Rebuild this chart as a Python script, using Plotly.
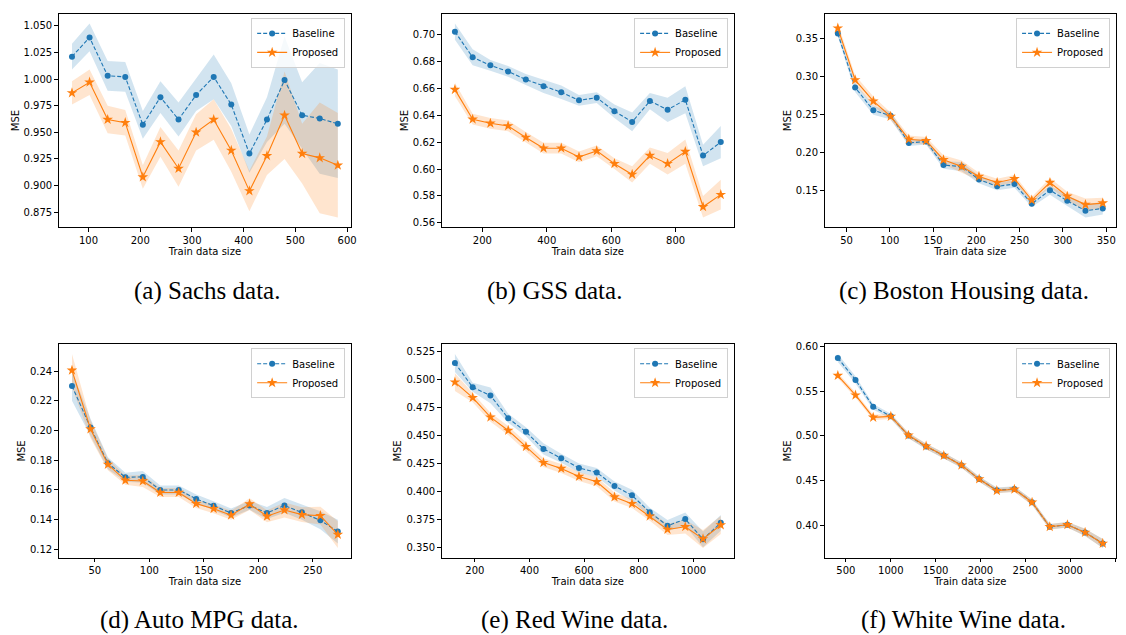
import plotly.graph_objects as go

W, H = 1126, 635

# ---------------- data ----------------
x_a = [68, 102, 137, 171, 205, 239, 274, 308, 342, 376, 411, 445, 479, 513, 547, 582]
base_a = [1.021, 1.039, 1.003, 1.002, 0.957, 0.983, 0.962, 0.985, 1.002, 0.976, 0.930, 0.962, 0.999, 0.966, 0.963, 0.958]
base_a_sd = [0.012, 0.013, 0.014, 0.014, 0.013, 0.015, 0.016, 0.015, 0.021, 0.020, 0.018, 0.021, 0.041, 0.031, 0.052, 0.051]
prop_a = [0.987, 0.997, 0.962, 0.959, 0.908, 0.941, 0.916, 0.950, 0.962, 0.933, 0.895, 0.928, 0.966, 0.930, 0.926, 0.919]
prop_a_sd = [0.011, 0.012, 0.013, 0.012, 0.011, 0.014, 0.017, 0.017, 0.019, 0.020, 0.019, 0.018, 0.041, 0.028, 0.052, 0.049]

x_b = [115, 170, 225, 280, 335, 390, 445, 500, 555, 610, 665, 720, 775, 830, 885, 940]
base_b = [0.702, 0.683, 0.677, 0.6725, 0.6665, 0.6615, 0.657, 0.651, 0.653, 0.643, 0.635, 0.6505, 0.644, 0.6515, 0.610, 0.620]
base_b_sd = [0.006, 0.006, 0.004, 0.004, 0.004, 0.005, 0.005, 0.004, 0.004, 0.005, 0.007, 0.006, 0.009, 0.010, 0.008, 0.012]
prop_b = [0.659, 0.637, 0.634, 0.632, 0.6235, 0.6155, 0.6155, 0.609, 0.6135, 0.604, 0.596, 0.610, 0.604, 0.613, 0.572, 0.581]
prop_b_sd = [0.005, 0.004, 0.004, 0.004, 0.004, 0.004, 0.004, 0.004, 0.004, 0.004, 0.006, 0.006, 0.008, 0.009, 0.008, 0.011]

x_c = [40, 60, 81, 101, 122, 142, 162, 183, 203, 224, 244, 264, 285, 305, 326, 346]
base_c = [0.357, 0.286, 0.256, 0.249, 0.213, 0.215, 0.184, 0.182, 0.165, 0.156, 0.159, 0.133, 0.151, 0.137, 0.124, 0.127]
base_c_sd = [0.004, 0.006, 0.006, 0.005, 0.004, 0.004, 0.005, 0.006, 0.005, 0.005, 0.005, 0.004, 0.006, 0.007, 0.009, 0.008]
prop_c = [0.364, 0.296, 0.268, 0.248, 0.218, 0.216, 0.191, 0.182, 0.169, 0.161, 0.166, 0.138, 0.161, 0.143, 0.132, 0.134]
prop_c_sd = [0.006, 0.006, 0.006, 0.005, 0.005, 0.005, 0.006, 0.008, 0.005, 0.005, 0.005, 0.004, 0.006, 0.006, 0.008, 0.007]

x_d = [29, 46, 62, 78, 94, 110, 127, 143, 159, 175, 192, 208, 224, 240, 257, 273]
base_d = [0.230, 0.202, 0.178, 0.1685, 0.1688, 0.160, 0.160, 0.154, 0.1494, 0.1445, 0.1496, 0.1445, 0.1496, 0.145, 0.1396, 0.132]
base_d_sd = [0.010, 0.006, 0.004, 0.003, 0.004, 0.003, 0.003, 0.003, 0.003, 0.003, 0.003, 0.004, 0.005, 0.005, 0.006, 0.008]
prop_d = [0.2405, 0.201, 0.1772, 0.1665, 0.166, 0.1583, 0.1583, 0.1508, 0.1474, 0.143, 0.1505, 0.1423, 0.1465, 0.1434, 0.1427, 0.130]
prop_d_sd = [0.011, 0.006, 0.004, 0.003, 0.004, 0.003, 0.003, 0.003, 0.003, 0.003, 0.004, 0.004, 0.005, 0.005, 0.006, 0.009]

x_e = [127, 192, 257, 322, 387, 451, 516, 581, 646, 711, 775, 840, 905, 970, 1035, 1100]
base_e = [0.5147, 0.493, 0.4857, 0.4654, 0.4533, 0.438, 0.4297, 0.421, 0.417, 0.405, 0.3966, 0.3816, 0.3695, 0.3754, 0.3574, 0.3721]
base_e_sd = [0.008, 0.004, 0.007, 0.004, 0.004, 0.005, 0.004, 0.004, 0.004, 0.004, 0.005, 0.004, 0.005, 0.006, 0.007, 0.007]
prop_e = [0.4976, 0.4837, 0.4663, 0.4545, 0.440, 0.4258, 0.4205, 0.4134, 0.4087, 0.3951, 0.3892, 0.378, 0.3662, 0.3686, 0.3577, 0.3701]
prop_e_sd = [0.008, 0.004, 0.004, 0.004, 0.004, 0.004, 0.004, 0.004, 0.004, 0.004, 0.004, 0.004, 0.005, 0.006, 0.008, 0.008]

x_f = [410, 607, 804, 1001, 1197, 1394, 1591, 1788, 1985, 2182, 2378, 2575, 2772, 2969, 3166, 3363]
base_f = [0.5867, 0.5624, 0.5325, 0.5218, 0.5004, 0.4882, 0.4782, 0.4675, 0.452, 0.4395, 0.441, 0.4262, 0.3989, 0.4011, 0.3926, 0.3804]
base_f_sd = [0.0045, 0.004, 0.003, 0.003, 0.003, 0.003, 0.003, 0.003, 0.003, 0.003, 0.003, 0.003, 0.003, 0.003, 0.004, 0.005]
prop_f = [0.5672, 0.5454, 0.5207, 0.5218, 0.5007, 0.4886, 0.4782, 0.4675, 0.452, 0.4391, 0.4406, 0.4262, 0.3989, 0.4011, 0.3926, 0.3804]
prop_f_sd = [0.003, 0.003, 0.003, 0.003, 0.003, 0.003, 0.003, 0.003, 0.003, 0.003, 0.003, 0.003, 0.003, 0.003, 0.004, 0.005]

captions = ["(a) Sachs data.", "(b) GSS data.", "(c) Boston Housing data.",
            "(d) Auto MPG data.", "(e) Red Wine data.", "(f) White Wine data."]
series_names = ["Baseline", "Proposed"]

panels = [
    (x_a, base_a, base_a_sd, prop_a, prop_a_sd),
    (x_b, base_b, base_b_sd, prop_b, prop_b_sd),
    (x_c, base_c, base_c_sd, prop_c, prop_c_sd),
    (x_d, base_d, base_d_sd, prop_d, prop_d_sd),
    (x_e, base_e, base_e_sd, prop_e, prop_e_sd),
    (x_f, base_f, base_f_sd, prop_f, prop_f_sd),
]

# ---------------- style / layout ----------------
BLUE = "#1f77b4"
ORANGE = "#ff7f0e"
BLUE_FILL = "rgba(31,119,180,0.2)"
ORANGE_FILL = "rgba(255,127,14,0.2)"

# axes boxes in pixels: (left, right, top, bottom)
boxes = [(59, 353, 10, 225), (444, 738, 10, 225), (829, 1122, 10, 225),
         (59, 353, 343, 558), (444, 738, 343, 558), (829, 1122, 343, 558)]
x_dticks = [100, 200, 50, 50, 200, 500]
y_dticks = [0.025, 0.02, 0.05, 0.02, 0.025, 0.05]
y_formats = [".3f", ".2f", ".2f", ".2f", ".3f", ".2f"]
caption_pos = [(208, 289), (557, 289), (969, 289), (201, 621), (578, 621), (969, 621)]

fig = go.Figure()
layout = dict(width=W, height=H, margin=dict(l=0, r=0, t=0, b=0),
              paper_bgcolor="white", plot_bgcolor="white",
              font=dict(family="DejaVu Sans", size=10, color="black"),
              annotations=[])

for i, (xs, b, bsd, p, psd) in enumerate(panels):
    k = "" if i == 0 else str(i + 1)
    xa, ya = "x" + k, "y" + k
    lg = "legend" + k
    b_up = [m + s for m, s in zip(b, bsd)]
    b_lo = [m - s for m, s in zip(b, bsd)]
    p_up = [m + s for m, s in zip(p, psd)]
    p_lo = [m - s for m, s in zip(p, psd)]

    fig.add_trace(go.Scatter(x=xs + xs[::-1], y=b_up + b_lo[::-1], fill="toself",
                             fillcolor=BLUE_FILL, line=dict(width=0), mode="lines",
                             hoverinfo="skip", showlegend=False, xaxis=xa, yaxis=ya))
    fig.add_trace(go.Scatter(x=xs + xs[::-1], y=p_up + p_lo[::-1], fill="toself",
                             fillcolor=ORANGE_FILL, line=dict(width=0), mode="lines",
                             hoverinfo="skip", showlegend=False, xaxis=xa, yaxis=ya))
    fig.add_trace(go.Scatter(x=xs, y=b, name=series_names[0], mode="lines+markers",
                             line=dict(color=BLUE, width=1.1, dash="4px,2px"),
                             marker=dict(symbol="circle", size=6, color=BLUE),
                             xaxis=xa, yaxis=ya, legend=lg))
    fig.add_trace(go.Scatter(x=xs, y=p, name=series_names[1], mode="lines+markers",
                             line=dict(color=ORANGE, width=1.1),
                             marker=dict(symbol="star", size=8, color=ORANGE),
                             xaxis=xa, yaxis=ya, legend=lg))

    # matplotlib-style autoscale: 5% margins
    xmin, xmax = min(xs), max(xs)
    ymin = min(b_lo + p_lo)
    ymax = max(b_up + p_up)
    dx = (xmax - xmin) * 0.05
    dy = (ymax - ymin) * 0.05

    l, r, t, bt = boxes[i]
    axis_common = dict(showline=True, linecolor="black", linewidth=1, mirror=True,
                       ticks="outside", ticklen=3.5, tickwidth=1, tickcolor="black",
                       showgrid=False, zeroline=False,
                       tickfont=dict(family="DejaVu Sans", size=10, color="black"))
    layout["xaxis" + k] = dict(axis_common, domain=[l / W, r / W],
                               range=[xmin - dx, xmax + dx], dtick=x_dticks[i], tick0=0,
                               anchor=ya,
                               title=dict(text="Train data size", standoff=0,
                                          font=dict(family="DejaVu Sans", size=10)))
    layout["yaxis" + k] = dict(axis_common, domain=[1 - bt / H, 1 - t / H],
                               range=[ymin - dy, ymax + dy], dtick=y_dticks[i], tick0=0,
                               tickformat=y_formats[i], anchor=xa,
                               title=dict(text="MSE", standoff=2,
                                          font=dict(family="DejaVu Sans", size=10)))
    layout[lg] = dict(x=(r - 6) / W, y=1 - (t + 4) / H, xanchor="right", yanchor="top",
                      bgcolor="rgba(255,255,255,0.8)", bordercolor="#d0d0d0",
                      borderwidth=1, font=dict(family="DejaVu Sans", size=10),
                      tracegroupgap=0, itemwidth=30)
    cx, cy = caption_pos[i]
    layout["annotations"].append(dict(text=captions[i], x=cx / W, y=1 - cy / H,
                                      xref="paper", yref="paper", showarrow=False,
                                      xanchor="center", yanchor="middle",
                                      font=dict(family="Liberation Serif", size=25,
                                                color="black")))

fig.update_layout(**layout)
fig.write_html("out.html")
